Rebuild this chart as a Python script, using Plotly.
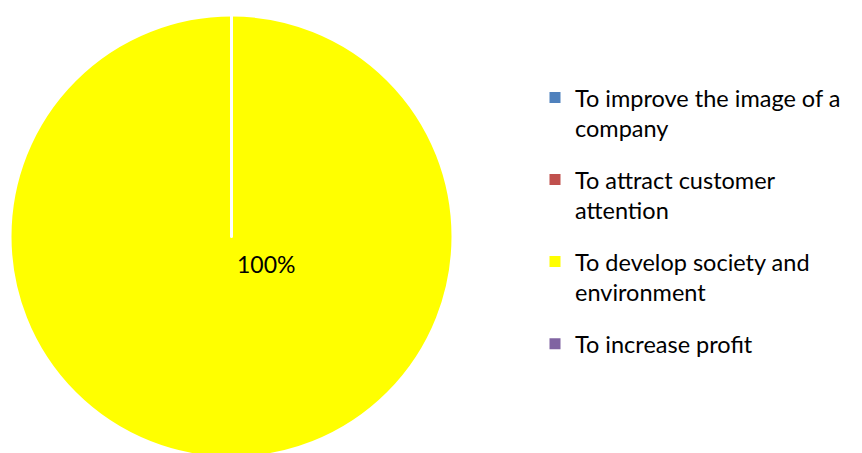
import plotly.graph_objects as go

labels = ["To improve the image of a<br>company",
          "To attract customer<br>attention",
          "To develop society and<br>environment",
          "To increase profit"]
values = [0, 0, 100, 0]
colors = ["#4F81BD", "#C0504D", "#FFFF00", "#8064A2"]

total = sum(values)
pct_text = [f"{round(100 * v / total)}%" for v in values if v > 0]

FONT = "Lato"
W, H = 862, 453

fig = go.Figure()
fig.add_trace(go.Pie(
    labels=labels, values=values, sort=False, direction="clockwise", rotation=0,
    marker=dict(colors=colors, line=dict(color="white", width=3)),
    textinfo="none", hoverinfo="label+percent", showlegend=False,
    domain=dict(x=[0, 447 / W], y=[0, 1]),
))

# legend entries (one group each so spacing can be set)
for i, (lab, col) in enumerate(zip(labels, colors)):
    fig.add_trace(go.Scatter(
        x=[None], y=[None], mode="markers", name=lab, legendgroup=f"g{i}",
        marker=dict(symbol="square", size=11, color=col), hoverinfo="skip",
    ))

fig.add_annotation(text=pct_text[0], x=227 / W, y=1 - 255 / H, xref="paper", yref="paper",
                   showarrow=False, font=dict(size=23, color="#000000", family=FONT))

fig.update_layout(
    width=W, height=H,
    margin=dict(l=0, r=0, t=7, b=3),
    paper_bgcolor="white", plot_bgcolor="white",
    font=dict(family=FONT, size=23.5, color="#000000"),
    xaxis=dict(visible=False), yaxis=dict(visible=False),
    legend=dict(x=527 / W, xanchor="left", y=1 - 62 / H, yanchor="top",
                valign="top", font=dict(size=23.5), tracegroupgap=18,
                traceorder="grouped"),
    showlegend=True,
)

fig.write_html("out.html")
